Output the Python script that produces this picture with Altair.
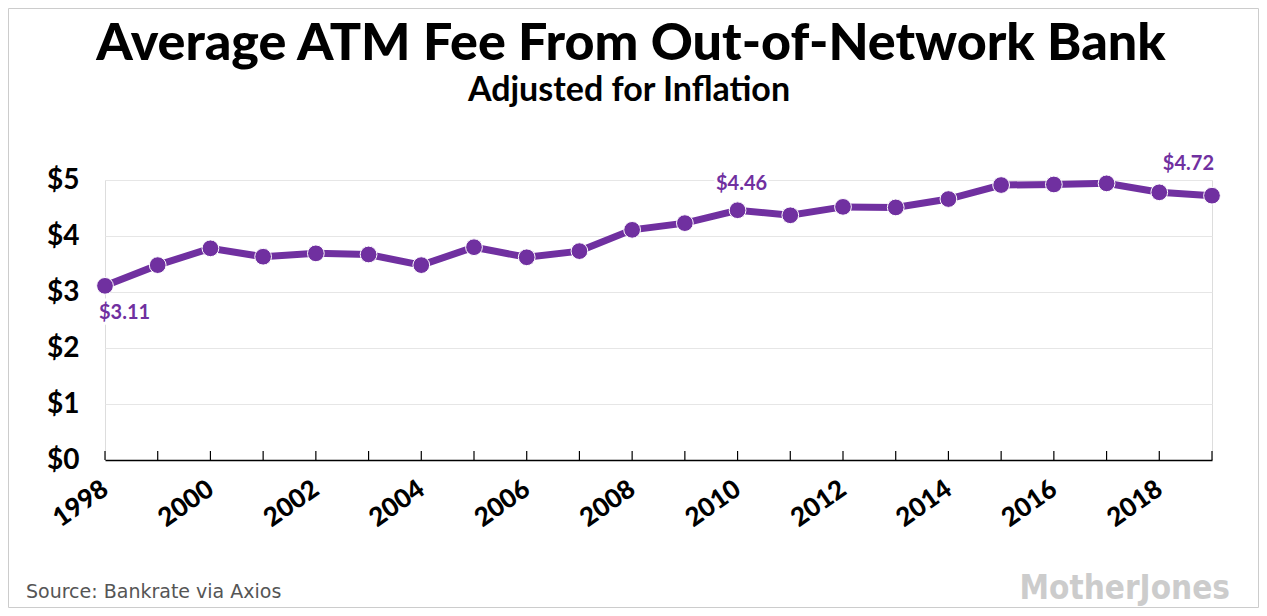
import altair as alt
import pandas as pd

years = list(range(1998, 2020))
fees = [3.11, 3.48, 3.78, 3.63, 3.69, 3.67, 3.48, 3.80, 3.62, 3.73, 4.11,
        4.23, 4.46, 4.37, 4.52, 4.51, 4.66, 4.91, 4.92, 4.94, 4.78, 4.72]
label_years = [1998, 2000, 2002, 2004, 2006, 2008, 2010, 2012, 2014, 2016, 2018]
y_ticks = [0, 1, 2, 3, 4, 5]
ann_years = [1998, 2010, 2019]
ann_labels = ["$3.11", "$4.46", "$4.72"]

title_text = "Average ATM Fee From Out-of-Network Bank"
subtitle_text = "Adjusted for Inflation"
source_text = "Source: Bankrate via Axios"
logo_text = "MotherJones"

PURPLE = "#7030a0"
FONT = "Lato"
W, H = 1107, 280
PAD = {"left": 97, "top": 172, "right": 47, "bottom": 148}

df = pd.DataFrame({"year": years, "fee": fees})
ann = pd.DataFrame({
    "year": ann_years,
    "fee": [fees[years.index(y)] for y in ann_years],
    "label": ann_labels,
})

xscale = alt.Scale(domain=[1998, 2019], nice=False, zero=False)
yscale = alt.Scale(domain=[0, 5], nice=False)

x_enc = alt.X("year:Q", scale=xscale, axis=alt.Axis(
    values=label_years, format="d", title=None, ticks=False, grid=False,
    domainColor="black", domainWidth=1.5, zindex=1,
    labelFont=FONT, labelFontWeight=900, labelFontSize=26,
    labelColor="black", labelAngle=-35, labelAlign="right",
    labelBaseline="middle", labelPadding=26, labelOverlap=False))
y_enc = alt.Y("fee:Q", scale=yscale, axis=alt.Axis(
    values=y_ticks, labelExpr="'$' + datum.value", title=None,
    domain=False, ticks=False, gridColor="#e6e6e6", gridWidth=1,
    labelFont=FONT, labelFontWeight="bold", labelFontSize=28,
    labelColor="black", labelPadding=26))

base = alt.Chart(df)

ticks = base.mark_rule(color="black", strokeWidth=1.2).encode(
    x=alt.X("year:Q", scale=xscale), y=alt.value(H - 9), y2=alt.value(H))

line = base.mark_line(color=PURPLE, strokeWidth=7).encode(x=x_enc, y=y_enc)
pts = base.mark_circle(size=280, color=PURPLE, opacity=1, stroke="white",
                       strokeWidth=1).encode(x="year:Q", y="fee:Q")

layers = [ticks, line, pts]
offsets = {1998: ("left", -6, 27), 2010: ("center", 4, -26), 2019: ("right", 2, -32)}
for yr, (al, dx, dy) in offsets.items():
    sub = alt.Chart(ann).transform_filter(alt.datum.year == yr)
    enc = dict(x="year:Q", y="fee:Q", text="label:N")
    halo = sub.mark_text(align=al, dx=dx, dy=dy, font=FONT, fontWeight="bold",
                         fontSize=20, color="white", stroke="white",
                         strokeWidth=6).encode(**enc)
    txt = sub.mark_text(align=al, dx=dx, dy=dy, font=FONT, fontWeight="bold",
                        fontSize=20, color=PURPLE).encode(**enc)
    layers += [halo, txt]


def free_text(text, x, y, **kw):
    return alt.Chart(pd.DataFrame({"t": [text]})).mark_text(**kw).encode(
        x=alt.value(x), y=alt.value(y), text="t:N")


title = free_text(title_text, 526, -120, align="center", baseline="alphabetic",
                  font=FONT, fontSize=52, fontWeight=900, color="black")
subtitle = free_text(subtitle_text, 524, -79, align="center",
                     baseline="alphabetic", font=FONT, fontSize=34,
                     fontWeight="bold", color="black")
source = free_text(source_text, -79, 412, align="left", baseline="middle",
                   font="DejaVu Sans", fontSize=19, color="#555555")
logo = free_text(logo_text, 1125, 419, align="right", baseline="alphabetic",
                 font="DejaVu Sans Condensed", fontWeight="bold", fontSize=33,
                 color="#cccccc")
border = alt.Chart(pd.DataFrame({"t": [0]})).mark_rect(
    fill=None, stroke="#cccccc", strokeWidth=1).encode(
    x=alt.value(-96.5), x2=alt.value(W + 46.5),
    y=alt.value(-171.5), y2=alt.value(H + 147.5))

layers += [title, subtitle, source, logo, border]

chart = alt.layer(*layers).properties(
    width=W, height=H, padding=PAD,
    autosize=alt.AutoSizeParams(type="none"),
).configure_view(stroke=None).configure(background="white")

chart.save("out.html", embed_options={"renderer": "svg", "actions": False})
